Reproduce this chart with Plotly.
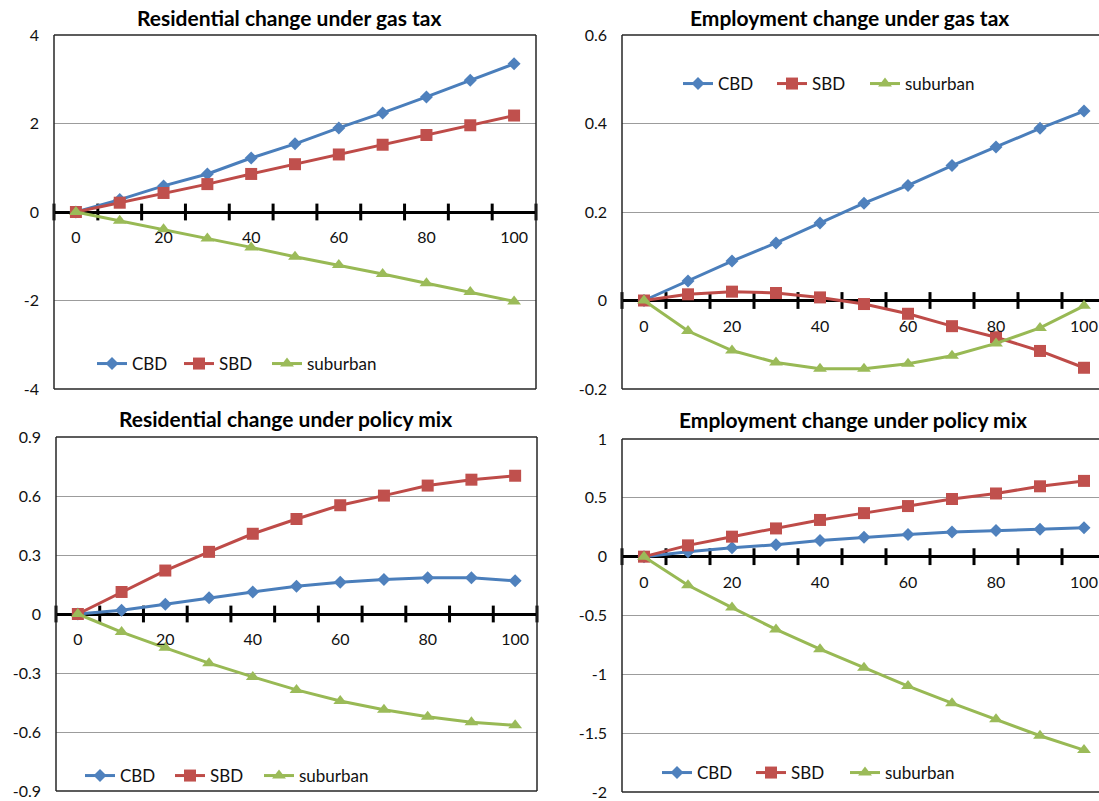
import plotly.graph_objects as go

W, H = 1099, 801

# ---- data -------------------------------------------------------------
pct = [0, 10, 20, 30, 40, 50, 60, 70, 80, 90, 100]
cat_edges = [-5, 5, 15, 25, 35, 45, 55, 65, 75, 85, 95, 105]
x_ticks = [0, 20, 40, 60, 80, 100]
x_labels = ["0", "20", "40", "60", "80", "100"]
series_names = ["CBD", "SBD", "suburban"]

# Residential change under gas tax
res_gas_cbd = [0, 0.28, 0.59, 0.86, 1.22, 1.54, 1.90, 2.24, 2.60, 2.98, 3.35]
res_gas_sbd = [0, 0.21, 0.43, 0.63, 0.86, 1.08, 1.30, 1.52, 1.74, 1.96, 2.18]
res_gas_sub = [0, -0.20, -0.39, -0.60, -0.80, -1.01, -1.20, -1.40, -1.61, -1.81, -2.02]
res_gas_yticks = [-4, -2, 0, 2, 4]
res_gas_ylabels = ["-4", "-2", "0", "2", "4"]

# Employment change under gas tax
emp_gas_cbd = [0, 0.044, 0.089, 0.130, 0.175, 0.220, 0.260, 0.305, 0.347, 0.389, 0.428]
emp_gas_sbd = [0, 0.014, 0.020, 0.017, 0.007, -0.008, -0.030, -0.058, -0.083, -0.114, -0.152]
emp_gas_sub = [0, -0.069, -0.113, -0.140, -0.154, -0.154, -0.143, -0.125, -0.097, -0.062, -0.012]
emp_gas_yticks = [-0.2, 0, 0.2, 0.4, 0.6]
emp_gas_ylabels = ["-0.2", "0", "0.2", "0.4", "0.6"]

# Residential change under policy mix
res_mix_cbd = [0, 0.019, 0.049, 0.082, 0.112, 0.141, 0.162, 0.176, 0.184, 0.184, 0.169]
res_mix_sbd = [0, 0.112, 0.221, 0.316, 0.408, 0.483, 0.553, 0.602, 0.653, 0.683, 0.703]
res_mix_sub = [0, -0.092, -0.172, -0.250, -0.320, -0.386, -0.442, -0.487, -0.522, -0.551, -0.566]
res_mix_yticks = [-0.9, -0.6, -0.3, 0, 0.3, 0.6, 0.9]
res_mix_ylabels = ["-0.9", "-0.6", "-0.3", "0", "0.3", "0.6", "0.9"]

# Employment change under policy mix
emp_mix_cbd = [0, 0.042, 0.076, 0.101, 0.138, 0.164, 0.189, 0.209, 0.223, 0.234, 0.246]
emp_mix_sbd = [0, 0.096, 0.170, 0.240, 0.312, 0.370, 0.430, 0.490, 0.537, 0.598, 0.644]
emp_mix_sub = [0, -0.243, -0.433, -0.618, -0.786, -0.945, -1.100, -1.245, -1.381, -1.522, -1.644]
emp_mix_yticks = [-2, -1.5, -1, -0.5, 0, 0.5, 1]
emp_mix_ylabels = ["-2", "-1.5", "-1", "-0.5", "0", "0.5", "1"]

# ---- styling ----------------------------------------------------------
FONT = "Lato, 'Open Sans', sans-serif"
TICK_FONT = dict(family=FONT, size=16, color="#111111")
styles = [
    dict(line="#4A7EBB", fill="#4F81BD", symbol="diamond", size=10),
    dict(line="#BE4B48", fill="#C0504D", symbol="square", size=12),
    dict(line="#98B954", fill="#9BBB59", symbol="triangle-up", size=12),
]

# panel boxes in pixels: left, right (full category span), top, bottom
# leg_x = where each legend label starts, leg_y = legend centre line
panels = [
    dict(title="Residential change under gas tax", box=(54, 536, 35, 389),
         yr=(-4, 4), yt=res_gas_yticks, yl=res_gas_ylabels,
         data=[res_gas_cbd, res_gas_sbd, res_gas_sub],
         title_c=(289, 17), leg_x=(132, 219, 307), leg_y=364),
    dict(title="Employment change under gas tax", box=(622, 1106, 35, 389),
         yr=(-0.2, 0.6), yt=emp_gas_yticks, yl=emp_gas_ylabels,
         data=[emp_gas_cbd, emp_gas_sbd, emp_gas_sub],
         title_c=(849, 17), leg_x=(718, 812, 905), leg_y=84),
    dict(title="Residential change under policy mix", box=(56, 537, 437, 791),
         yr=(-0.9, 0.9), yt=res_mix_yticks, yl=res_mix_ylabels,
         data=[res_mix_cbd, res_mix_sbd, res_mix_sub],
         title_c=(285, 418), leg_x=(120, 210, 299), leg_y=776),
    dict(title="Employment change under policy mix", box=(622, 1106, 439, 792),
         yr=(-2, 1), yt=emp_mix_yticks, yl=emp_mix_ylabels,
         data=[emp_mix_cbd, emp_mix_sbd, emp_mix_sub],
         title_c=(853, 420), leg_x=(697, 791, 885), leg_y=773),
]

fig = go.Figure()
layout = dict(
    width=W, height=H, autosize=False, template="none",
    margin=dict(l=0, r=0, t=0, b=0, pad=0),
    paper_bgcolor="white", plot_bgcolor="white",
    showlegend=True, shapes=[], annotations=[],
)

leg_no = 0
for i, p in enumerate(panels, start=1):
    sfx = "" if i == 1 else str(i)
    xa, ya = "x" + sfx, "y" + sfx
    left, right, top, bottom = p["box"]
    vis_right = min(right, W)
    step = (right - left) / 11.0
    x_end = -5 + (vis_right - left) / step * 10
    dom_x = [left / W, vis_right / W]
    dom_y = [1 - bottom / H, 1 - top / H]
    ylo, yhi = p["yr"]
    zero_pos = dom_y[0] + (0 - ylo) / (yhi - ylo) * (dom_y[1] - dom_y[0])

    # tick marks crossing the horizontal axis at category boundaries
    fig.add_trace(go.Scatter(
        x=cat_edges, y=[0] * len(cat_edges), mode="markers",
        marker=dict(symbol="line-ns", size=12, line=dict(width=3, color="black")),
        xaxis=xa, yaxis=ya, showlegend=False, hoverinfo="skip", cliponaxis=False))

    for name, vals, st, lx in zip(series_names, p["data"], styles, p["leg_x"]):
        leg_no += 1
        leg = "legend" if leg_no == 1 else "legend%d" % leg_no
        fig.add_trace(go.Scatter(
            x=pct, y=vals, name=name, mode="lines+markers",
            line=dict(color=st["line"], width=3),
            marker=dict(symbol=st["symbol"], size=st["size"], color=st["fill"],
                        line=dict(width=0)),
            xaxis=xa, yaxis=ya, legend=leg))
        # one legend box per entry so each label sits where it belongs
        layout[leg] = dict(
            x=(lx - 40) / W, y=1 - p["leg_y"] / H, xanchor="left", yanchor="middle",
            orientation="h", bgcolor="rgba(0,0,0,0)", borderwidth=0,
            font=dict(family=FONT, size=17, color="#111111"),
            itemwidth=30, itemclick=False, itemdoubleclick=False)

    layout["xaxis" + sfx] = dict(
        domain=dom_x, range=[-5, x_end], anchor="free", position=zero_pos,
        tickmode="array", tickvals=x_ticks, ticktext=x_labels,
        showgrid=False, zeroline=False, showline=False, ticks="",
        ticklabelstandoff=14, tickfont=TICK_FONT, automargin=False, fixedrange=True)
    layout["yaxis" + sfx] = dict(
        domain=dom_y, range=[ylo, yhi], anchor=xa,
        tickmode="array", tickvals=p["yt"], ticktext=p["yl"],
        showgrid=True, gridcolor="#9c9c9c", gridwidth=1,
        zeroline=True, zerolinecolor="black", zerolinewidth=3,
        showline=False, ticks="", ticklabelstandoff=14,
        tickfont=TICK_FONT, automargin=False, fixedrange=True)

    # plot-area frame
    fr = dict(type="line", xref=xa + " domain", yref=ya + " domain",
              line=dict(color="#262626", width=1.5), layer="above")
    frame_sides = [(0, 0, 0, 1), (0, 1, 1, 1), (0, 0, 1, 0)]
    if right <= W:
        frame_sides.append((1, 0, 1, 1))
    for (ax0, ay0, ax1, ay1) in frame_sides:
        layout["shapes"].append(dict(fr, x0=ax0, y0=ay0, x1=ax1, y1=ay1))

    tx, ty = p["title_c"]
    layout["annotations"].append(dict(
        text="<b>" + p["title"] + "</b>", xref="paper", yref="paper",
        x=tx / W, y=1 - ty / H, xanchor="center", yanchor="middle",
        showarrow=False, font=dict(family=FONT, size=21, color="black")))

fig.update_layout(**layout)
fig.write_html("out.html")
